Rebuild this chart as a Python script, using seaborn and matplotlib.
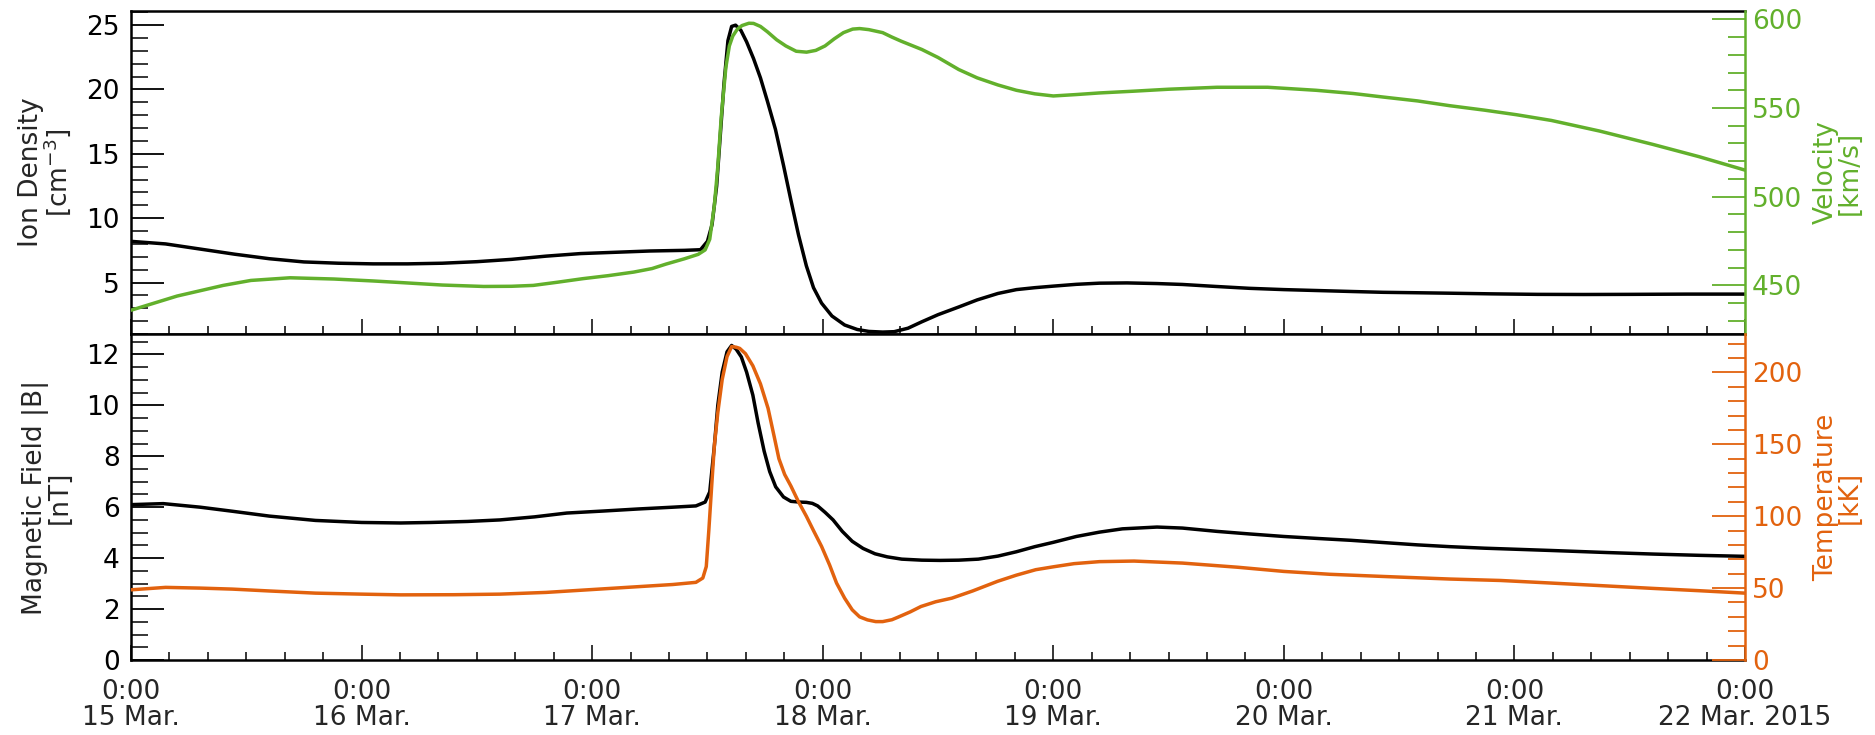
import numpy as np
import pandas as pd
import matplotlib
matplotlib.use("Agg")
import matplotlib.pyplot as plt
from matplotlib.ticker import MultipleLocator
import seaborn as sns

# ---------------- data (time in days since 15 Mar 2015 0:00) ----------------
dens_t = [0.0, 0.15, 0.3, 0.45, 0.6, 0.75, 0.9, 1.05, 1.2, 1.35, 1.5, 1.65, 1.8, 1.95,
          2.1, 2.25, 2.4, 2.47, 2.50, 2.52, 2.54, 2.556, 2.572, 2.589, 2.605, 2.622,
          2.645, 2.67, 2.70, 2.73, 2.76, 2.795, 2.83, 2.862, 2.895, 2.929, 2.96, 2.995,
          3.04, 3.095, 3.15, 3.2, 3.26, 3.31, 3.37, 3.43, 3.5, 3.59, 3.67, 3.76, 3.84,
          3.92, 4.0, 4.1, 4.2, 4.32, 4.45, 4.56, 4.7, 4.85, 5.0, 5.14, 5.3, 5.43, 5.6,
          5.72, 5.9, 6.1, 6.3, 6.5, 6.75, 7.0]
dens_v = [8.2, 8.0, 7.6, 7.2, 6.85, 6.6, 6.5, 6.45, 6.45, 6.5, 6.62, 6.8, 7.05, 7.25,
          7.35, 7.45, 7.5, 7.55, 8.2, 9.5, 12.5, 16.5, 20.5, 23.8, 24.9, 25.0,
          24.6, 23.7, 22.4, 20.9, 19.1, 16.9, 14.1, 11.4, 8.7, 6.3, 4.6, 3.4,
          2.4, 1.7, 1.35, 1.2, 1.15, 1.18, 1.45, 1.95, 2.5, 3.1, 3.65, 4.15, 4.45,
          4.6, 4.72, 4.86, 4.95, 4.97, 4.92, 4.85, 4.7, 4.55, 4.45, 4.38, 4.3, 4.24, 4.2,
          4.17, 4.12, 4.08, 4.07, 4.08, 4.1, 4.1]

vel_t = [0.0, 0.1, 0.2, 0.3, 0.4, 0.52, 0.69, 0.88, 1.05, 1.17, 1.35, 1.53, 1.65, 1.745,
         1.85, 1.96, 2.07, 2.18, 2.26, 2.32, 2.4, 2.46, 2.49, 2.51, 2.53, 2.545, 2.56,
         2.58, 2.595, 2.61, 2.63, 2.65, 2.68, 2.70, 2.73, 2.76, 2.8, 2.84, 2.885, 2.93,
         2.97, 3.01, 3.05, 3.09, 3.13, 3.16, 3.2, 3.26, 3.3, 3.34, 3.43, 3.5, 3.59, 3.67,
         3.76, 3.84, 3.92, 4.0, 4.1, 4.2, 4.35, 4.5, 4.71, 4.93, 5.14, 5.3, 5.43, 5.58,
         5.72, 5.87, 6.01, 6.16, 6.37, 6.6, 6.8, 7.0]
vel_v = [436, 440, 444, 447, 450, 452.8, 454.3, 453.6, 452.5, 451.6, 450.2, 449.4, 449.5, 450,
         451.8, 453.8, 455.5, 457.5, 459.5, 462, 465, 467.5, 470, 476, 495, 517, 545,
         573, 585, 590.6, 594.5, 596.5, 597.8, 597.7, 596, 593, 588.5, 585, 582, 581.5,
         582.5, 585, 589, 592.5, 594.5, 594.8, 594.2, 592.5, 590, 587.7, 583, 578.5, 571.7, 567,
         563, 560, 558, 556.8, 557.6, 558.5, 559.5, 560.6, 561.7, 561.7, 560, 558.2, 556.2, 554,
         551.3, 548.8, 546.2, 543, 537, 529.5, 522.6, 515]

bmag_t = [0.0, 0.14, 0.3, 0.44, 0.6, 0.8, 1.0, 1.17, 1.3, 1.46, 1.6, 1.75, 1.89, 2.05,
          2.2, 2.35, 2.45, 2.49, 2.51, 2.53, 2.545, 2.564, 2.585, 2.605, 2.625, 2.647,
          2.67, 2.697, 2.72, 2.746, 2.77, 2.796, 2.83, 2.862, 2.9, 2.929, 2.955, 2.978,
          3.01, 3.045, 3.085, 3.128, 3.175, 3.227, 3.28, 3.343, 3.43, 3.509, 3.59, 3.675,
          3.76, 3.84, 3.92, 4.0, 4.1, 4.2, 4.3, 4.45, 4.56, 4.71, 4.85, 5.0, 5.15, 5.29,
          5.45, 5.58, 5.72, 5.87, 6.0, 6.16, 6.4, 6.6, 6.8, 7.0]
bmag_v = [6.1, 6.14, 6.0, 5.84, 5.65, 5.48, 5.4, 5.38, 5.4, 5.44, 5.5, 5.62, 5.77, 5.85,
          5.93, 6.0, 6.05, 6.2, 6.6, 8.4, 10.0, 11.3, 12.1, 12.35, 12.2, 11.9,
          11.3, 10.4, 9.3, 8.2, 7.4, 6.8, 6.4, 6.23, 6.2, 6.19, 6.15, 6.05,
          5.8, 5.5, 5.05, 4.66, 4.38, 4.17, 4.05, 3.96, 3.92, 3.91, 3.92, 3.96,
          4.08, 4.25, 4.45, 4.62, 4.85, 5.02, 5.15, 5.22, 5.18, 5.05, 4.95, 4.85, 4.77, 4.7,
          4.6, 4.52, 4.45, 4.39, 4.35, 4.3, 4.22, 4.16, 4.11, 4.07]

temp_t = [0.0, 0.15, 0.3, 0.44, 0.6, 0.8, 1.0, 1.17, 1.4, 1.6, 1.8, 2.03, 2.2, 2.35,
          2.45, 2.48, 2.495, 2.506, 2.518, 2.53, 2.545, 2.564, 2.585, 2.605, 2.625, 2.64,
          2.665, 2.697, 2.73, 2.763, 2.79, 2.81, 2.835, 2.862, 2.895, 2.929, 2.96, 2.995,
          3.03, 3.06, 3.095, 3.128, 3.16, 3.194, 3.23, 3.26, 3.3, 3.327, 3.38, 3.426,
          3.49, 3.56, 3.65, 3.758, 3.84, 3.924, 4.0, 4.09, 4.2, 4.35, 4.56, 4.8, 5.0,
          5.2, 5.43, 5.72, 5.94, 6.16, 6.4, 6.6, 6.8, 7.0]
temp_v = [48.8, 50.5, 50.0, 49.3, 48.0, 46.5, 45.8, 45.3, 45.4, 45.8, 47.0, 49.3, 51.0, 52.5,
          54.0, 57, 65, 90, 120, 149, 172, 195, 211, 218, 217.5, 216.7,
          213, 204.6, 192, 175, 155, 140, 129, 121, 110, 100, 90, 79,
          66, 53.5, 43, 34.9, 30, 27.9, 26.7, 26.7, 28, 29.8, 33.5, 37.2,
          40.5, 43, 48, 54.7, 59, 62.8, 64.8, 67.0, 68.4, 68.8, 67.4, 64.5, 61.6,
          59.6, 58.1, 56.3, 55.3, 53.5, 51.5, 49.8, 48.2, 46.5]

day_ticks = [0, 1, 2, 3, 4, 5, 6, 7]
day_labels = ["0:00\n15 Mar.", "0:00\n16 Mar.", "0:00\n17 Mar.", "0:00\n18 Mar.",
              "0:00\n19 Mar.", "0:00\n20 Mar.", "0:00\n21 Mar.", "0:00\n22 Mar. 2015"]

# ---------------- styling ----------------
sns.set_style("ticks")
plt.rcParams["font.family"] = ["DejaVu Sans"]

GREEN = "#62b02c"
ORANGE = "#e2620e"
FS = 19
LW = 2.5
SPW = 1.8

W, H = 1875, 735
fig = plt.figure(figsize=(W / 100, H / 100), dpi=100)
L, R = 131 / W, 1745 / W
ax1 = fig.add_axes([L, 1 - 334 / H, R - L, (334 - 11) / H])
ax2 = fig.add_axes([L, 1 - 660 / H, R - L, (660 - 334) / H])
ax1b = ax1.twinx()
ax2b = ax2.twinx()

sns.lineplot(x=dens_t, y=dens_v, ax=ax1, color="black", lw=LW)
sns.lineplot(x=vel_t, y=vel_v, ax=ax1b, color=GREEN, lw=LW)
sns.lineplot(x=bmag_t, y=bmag_v, ax=ax2, color="black", lw=LW)
sns.lineplot(x=temp_t, y=temp_v, ax=ax2b, color=ORANGE, lw=LW)

ax1.set_ylim(1.0, 26.1)
ax1b.set_ylim(422.6, 604.7)
ax2.set_ylim(0, 12.8)
ax2b.set_ylim(0, 226.7)
for a in (ax1, ax2, ax1b, ax2b):
    a.set_xlim(0, 7)

# spines
for a in (ax1, ax2):
    a.spines["right"].set_visible(False)
    for s in ("left", "top", "bottom"):
        a.spines[s].set_linewidth(SPW)
        a.spines[s].set_color("black")
for a, c in ((ax1b, GREEN), (ax2b, ORANGE)):
    for s in ("left", "top", "bottom"):
        a.spines[s].set_visible(False)
    a.spines["right"].set_color(c)
    a.spines["right"].set_linewidth(SPW)

# y ticks
ax1.yaxis.set_major_locator(MultipleLocator(5))
ax1.yaxis.set_minor_locator(MultipleLocator(1))
ax1b.yaxis.set_major_locator(MultipleLocator(50))
ax1b.yaxis.set_minor_locator(MultipleLocator(10))
ax2.yaxis.set_major_locator(MultipleLocator(2))
ax2.yaxis.set_minor_locator(MultipleLocator(0.5))
ax2b.yaxis.set_major_locator(MultipleLocator(50))
ax2b.yaxis.set_minor_locator(MultipleLocator(10))

for a in (ax1, ax2):
    a.tick_params(axis="y", which="major", direction="in", length=24, width=1.3,
                  labelsize=FS, pad=8, left=True, right=False, colors="black")
    a.tick_params(axis="y", which="minor", direction="in", length=12, width=1.3,
                  left=True, right=False)
for a, c in ((ax1b, GREEN), (ax2b, ORANGE)):
    a.tick_params(axis="y", which="major", direction="in", length=24, width=1.3,
                  labelsize=FS, pad=5, left=False, right=True, colors=c)
    a.tick_params(axis="y", which="minor", direction="in", length=12, width=1.3,
                  left=False, right=True, colors=c)

# x ticks
for a in (ax1, ax2):
    a.set_xticks(day_ticks)
    a.xaxis.set_minor_locator(MultipleLocator(1 / 6))
    a.tick_params(axis="x", which="major", direction="in", length=11, width=1.3,
                  bottom=True, top=False, labelsize=FS, pad=14)
    a.tick_params(axis="x", which="minor", direction="in", length=6, width=1.3,
                  bottom=True, top=False)
ax1.tick_params(axis="x", labelbottom=False)
ax2.set_xticklabels(day_labels, fontsize=FS, linespacing=1.0)

# labels
ax1.set_xlabel("")
ax2.set_xlabel("")
ax1.set_ylabel("Ion Density\n[cm$^{-3}$]", fontsize=FS, linespacing=0.9)
ax1.yaxis.set_label_coords(-0.036, 0.5)
ax2.set_ylabel("Magnetic Field |B|\n[nT]", fontsize=FS, linespacing=0.9)
ax2.yaxis.set_label_coords(-0.036, 0.5)
ax1b.set_ylabel("Velocity\n[km/s]", fontsize=FS, color=GREEN, linespacing=0.9)
ax1b.yaxis.set_label_coords(1.042, 0.5)
ax2b.set_ylabel("Temperature\n[kK]", fontsize=FS, color=ORANGE, linespacing=0.9)
ax2b.yaxis.set_label_coords(1.042, 0.5)

fig.savefig("out.png", dpi=100)
